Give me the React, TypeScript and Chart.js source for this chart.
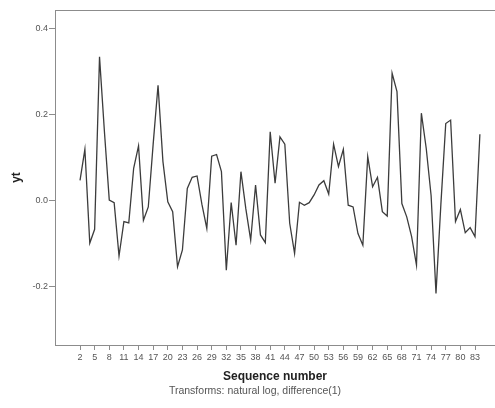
import React, { useEffect, useRef } from "react";
import { Chart, registerables } from "chart.js";

Chart.register(...registerables);

const firstSequence = 2;
const ytValues = [
  0.046, 0.118, -0.1, -0.068, 0.333, 0.16, 0.0, -0.006, -0.13, -0.05,
  -0.053, 0.074, 0.126, -0.047, -0.016, 0.13, 0.267, 0.09, -0.004, -0.027,
  -0.155, -0.116, 0.027, 0.053, 0.056, -0.01, -0.066, 0.102, 0.106, 0.066,
  -0.163, -0.006, -0.105, 0.066, -0.02, -0.093, 0.035, -0.081, -0.099, 0.159,
  0.039, 0.147, 0.13, -0.054, -0.124, -0.005, -0.012, -0.006, 0.012, 0.035,
  0.045, 0.014, 0.13, 0.078, 0.118, -0.012, -0.016, -0.078, -0.105, 0.101,
  0.031, 0.053, -0.027, -0.037, 0.295, 0.252, -0.008, -0.039, -0.085, -0.151,
  0.202, 0.12, 0.01, -0.217, -0.01, 0.178, 0.186, -0.05, -0.022, -0.076,
  -0.064, -0.085, 0.153,
];
const xTickValues = [2, 5, 8, 11, 14, 17, 20, 23, 26, 29, 32, 35, 38, 41, 44, 47, 50, 53, 56, 59, 62, 65, 68, 71, 74, 77, 80, 83];
const yTickValues = [-0.2, 0, 0.2, 0.4];
const yTickLabels = ["-0.2", "0.0", "0.2", "0.4"];
const xTitle = "Sequence number";
const yTitle = "yt";
const caption = "Transforms: natural log, difference(1)";

const FONT = '"Liberation Sans", Arial, sans-serif';

const framePlugin = {
  id: "framePlugin",
  afterDraw(chart: any) {
    const { ctx, chartArea } = chart;
    ctx.save();
    ctx.strokeStyle = "#8c8c8c";
    ctx.lineWidth = 1;
    ctx.beginPath();
    ctx.moveTo(chartArea.left, Math.round(chartArea.top) + 0.5);
    ctx.lineTo(chartArea.right, Math.round(chartArea.top) + 0.5);
    ctx.stroke();
    ctx.fillStyle = "#555";
    ctx.font = `10.5px ${FONT}`;
    ctx.textAlign = "center";
    ctx.textBaseline = "middle";
    ctx.fillText(caption, 255, 391);
    ctx.restore();
  },
};

export default function App() {
  const ref = useRef<HTMLCanvasElement | null>(null);

  useEffect(() => {
    if (!ref.current) return;
    const points = ytValues.map((v, i) => ({ x: firstSequence + i, y: v }));
    const chart = new Chart(ref.current, {
      type: "line",
      data: {
        datasets: [
          {
            data: points,
            borderColor: "#3c3c3c",
            borderWidth: 1.3,
            pointRadius: 0,
            tension: 0,
            fill: false,
          },
        ],
      },
      options: {
        responsive: false,
        animation: false,
        devicePixelRatio: 1,
        layout: { padding: { top: 10, left: 0, right: 0, bottom: 0 } },
        plugins: {
          legend: { display: false },
          tooltip: { enabled: false },
        },
        scales: {
          x: {
            type: "linear",
            min: -3.13,
            max: 87.1,
            afterBuildTicks: (s: any) => {
              s.ticks = xTickValues.map((v) => ({ value: v }));
            },
            afterFit: (s: any) => {
              s.height = 63;
            },
            ticks: {
              autoSkip: false,
              maxRotation: 0,
              minRotation: 0,
              padding: 2,
              color: "#555",
              font: { size: 9, family: FONT },
              callback: (v: any) => String(v),
            },
            grid: {
              drawOnChartArea: false,
              drawTicks: true,
              tickLength: 5,
              color: "#8c8c8c",
            },
            border: { display: true, color: "#8c8c8c" },
            title: {
              display: true,
              text: xTitle,
              color: "#222",
              font: { size: 12, weight: "bold", family: FONT },
              padding: { top: 4, bottom: 24 },
            },
          },
          y: {
            type: "linear",
            min: -0.337,
            max: 0.442,
            afterBuildTicks: (s: any) => {
              s.ticks = yTickValues.map((v) => ({ value: v }));
            },
            afterFit: (s: any) => {
              s.width = 55;
            },
            ticks: {
              padding: 1,
              color: "#555",
              font: { size: 9, family: FONT },
              callback: (_v: any, i: number) => yTickLabels[i],
            },
            grid: {
              drawOnChartArea: false,
              drawTicks: true,
              tickLength: 6,
              color: "#8c8c8c",
            },
            border: { display: true, color: "#8c8c8c" },
            title: {
              display: true,
              text: yTitle,
              color: "#222",
              font: { size: 12, weight: "bold", family: FONT },
              padding: { top: 9, bottom: 0 },
            },
          },
        },
      },
      plugins: [framePlugin],
    });
    return () => chart.destroy();
  }, []);

  return (
    <div style={{ position: "absolute", left: 0, top: 0, width: 495, height: 408, background: "#fff" }}>
      <canvas ref={ref} width={495} height={408} style={{ display: "block" }} />
    </div>
  );
}
